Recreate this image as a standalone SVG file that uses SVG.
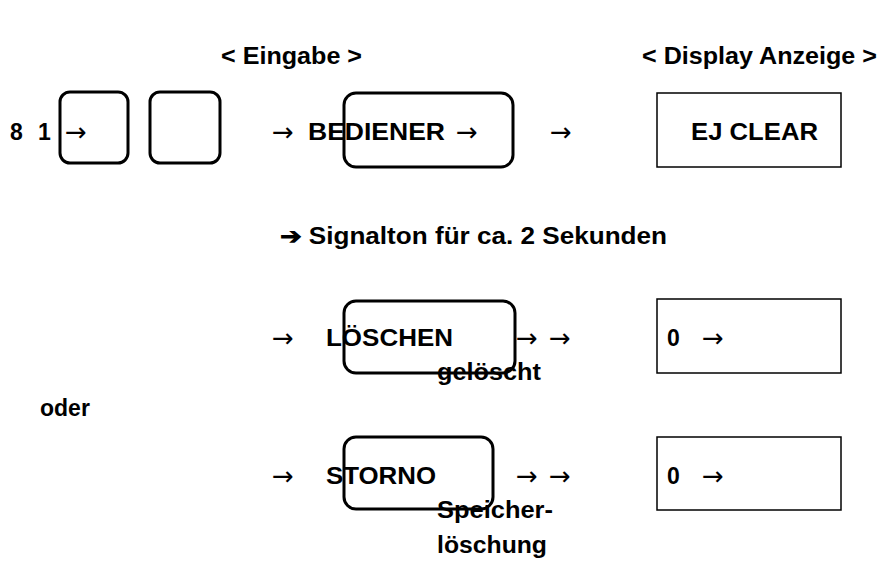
<svg xmlns="http://www.w3.org/2000/svg" width="879" height="562" viewBox="0 0 879 562">
<style>
text{font-family:"Liberation Sans",Arial,sans-serif;font-size:23px;fill:#000;font-weight:bold}
.a{font-family:"DejaVu Sans",sans-serif;font-weight:normal;font-size:26px}
.key{fill:none;stroke:#000;stroke-width:3}
.disp{fill:none;stroke:#000;stroke-width:1.5}
</style>
<rect width="879" height="562" fill="#fff"/>
<text x="221" y="64" textLength="141" lengthAdjust="spacingAndGlyphs">&lt; Eingabe &gt;</text>
<text x="642" y="64" textLength="235" lengthAdjust="spacingAndGlyphs">&lt; Display Anzeige &gt;</text>
<g id="row1">
<text x="10" y="140">8</text>
<text x="38" y="140">1</text>
<g id="key1"><rect class="key" x="60" y="92" width="68" height="71" rx="10"/><text class="a" x="65" y="141">→</text></g>
<g id="key2"><rect class="key" x="150" y="92" width="70" height="71" rx="10"/></g>
<text class="a" x="272" y="141">→</text>
<g id="bediener"><rect class="key" x="344" y="93" width="169" height="74" rx="12"/><text x="308" y="140" textLength="137" lengthAdjust="spacingAndGlyphs">BEDIENER</text><text class="a" x="456" y="141">→</text></g>
<text class="a" x="550" y="141">→</text>
<g id="ejclear"><rect class="disp" x="657" y="93" width="184" height="74"/><text x="691" y="140" textLength="127" lengthAdjust="spacingAndGlyphs">EJ CLEAR</text></g>
</g>
<text x="280" y="244" textLength="387" lengthAdjust="spacingAndGlyphs">➔ Signalton für ca. 2 Sekunden</text>
<g id="row2">
<text class="a" x="272" y="347">→</text>
<g id="loeschen"><rect class="key" x="344" y="301" width="171" height="72" rx="12"/><text x="326" y="346" textLength="127" lengthAdjust="spacingAndGlyphs">LÖSCHEN</text></g>
<text class="a" x="516" y="347">→</text><text class="a" x="549" y="347">→</text>
<text x="437" y="380" textLength="104" lengthAdjust="spacingAndGlyphs">gelöscht</text>
<g id="disp2"><rect class="disp" x="657" y="299" width="184" height="74"/><text x="667" y="346">0</text><text class="a" x="702" y="347">→</text></g>
</g>
<text x="40" y="416">oder</text>
<g id="row3">
<text class="a" x="272" y="485">→</text>
<g id="storno"><rect class="key" x="344" y="437" width="149" height="72" rx="12"/><text x="326" y="484" textLength="110" lengthAdjust="spacingAndGlyphs">STORNO</text></g>
<text class="a" x="516" y="485">→</text><text class="a" x="549" y="485">→</text>
<text x="437" y="518" textLength="116" lengthAdjust="spacingAndGlyphs">Speicher-</text>
<text x="437" y="553" textLength="110" lengthAdjust="spacingAndGlyphs">löschung</text>
<g id="disp3"><rect class="disp" x="657" y="437" width="184" height="73"/><text x="667" y="484">0</text><text class="a" x="702" y="485">→</text></g>
</g>
</svg>
